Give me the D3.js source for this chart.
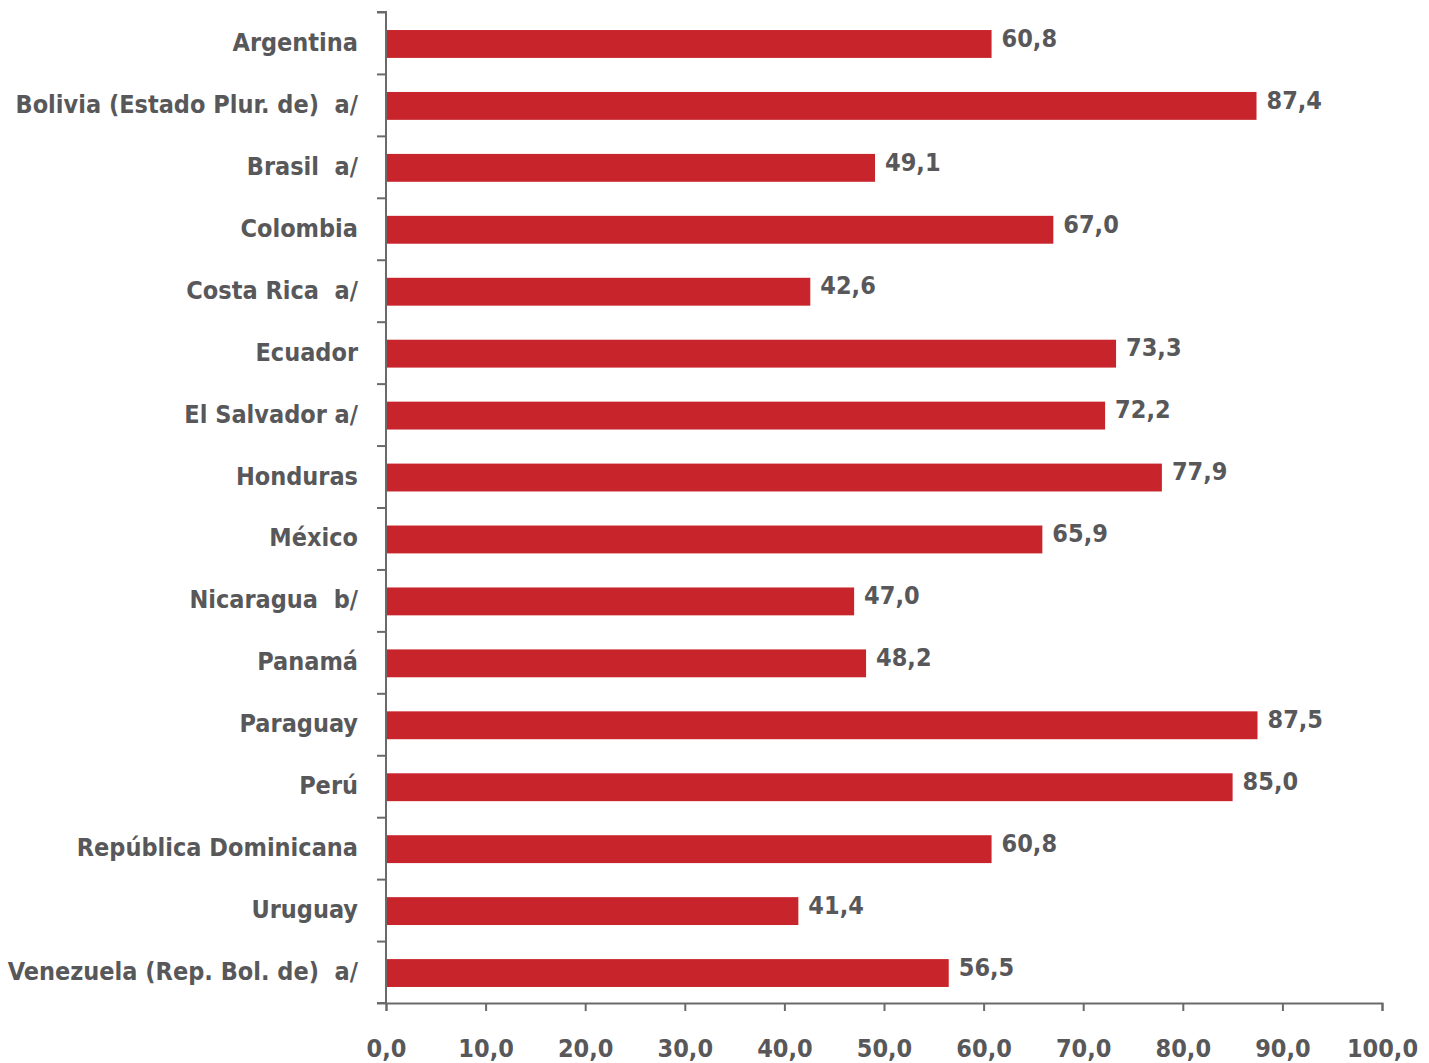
<!DOCTYPE html>
<html><head><meta charset="utf-8">
<script src="https://cdn.jsdelivr.net/npm/d3@7"></script>
<style>
html,body{margin:0;padding:0;background:#fff;}
text{font-family:"DejaVu Sans Condensed","Liberation Sans Narrow",sans-serif;font-weight:bold;fill:#58585a;white-space:pre;}
</style></head>
<body><svg id="c" width="1429" height="1063"></svg>
<script>
const categories = ["Argentina","Bolivia (Estado Plur. de)  a/","Brasil  a/","Colombia","Costa Rica  a/","Ecuador","El Salvador a/","Honduras","México","Nicaragua  b/","Panamá","Paraguay","Perú","República Dominicana","Uruguay","Venezuela (Rep. Bol. de)  a/"];
const values = [60.8,87.4,49.1,67.0,42.6,73.3,72.2,77.9,65.9,47.0,48.2,87.5,85.0,60.8,41.4,56.5];
const xTicks = [0,10,20,30,40,50,60,70,80,90,100];

const data = categories.map((c,i)=>({c, v: values[i]}));
const svg = d3.select("#c");
const mL = 386, mR = 1382, mT = 12, mB = 1003;
const fmt = d => d.toFixed(1).replace(".", ",");

const x = d3.scaleLinear().domain([0,100]).range([mL,mR]);
const y = d3.scaleBand().domain(categories).range([mT,mB]).paddingInner(0.55).paddingOuter(0.275);
const yb = d3.scaleLinear().domain([0,categories.length]).range([mT,mB]);

svg.append("g").selectAll("rect").data(data).join("rect")
  .attr("x", x(0)+1).attr("y", d=>y(d.c)+1).attr("width", d=>x(d.v)-x(0)-1).attr("height", y.bandwidth())
  .attr("fill","#c8242b");

// y axis line + boundary ticks
const gy = svg.append("g").attr("transform",`translate(${mL},0)`)
  .call(d3.axisLeft(yb).tickValues(d3.range(0,categories.length+1)).tickSize(9).tickFormat(""));
gy.selectAll("path,line").attr("stroke","#6a6a6a").attr("stroke-width",2);
gy.select(".domain").attr("d",`M-9,${mT}H0V${mB}H-9`);

// category labels
const gl = svg.append("g").attr("transform",`translate(${mL-28},0)`)
  .call(d3.axisLeft(y).tickSize(0).tickPadding(0));
gl.select(".domain").remove();
gl.selectAll("text").attr("font-size",25).attr("fill",null).attr("font-family",null)
  .attr("xml:space","preserve");

// x axis
const gx = svg.append("g").attr("transform",`translate(0,${mB})`)
  .call(d3.axisBottom(x).tickValues(xTicks).tickSize(8).tickPadding(28).tickFormat(fmt));
gx.selectAll("path,line").attr("stroke","#6a6a6a").attr("stroke-width",2);
gx.selectAll("text").attr("font-size",25).attr("fill",null).attr("font-family",null);

// value labels
svg.append("g").selectAll("text").data(data).join("text")
  .attr("x", d=>x(d.v)+10).attr("y", d=>y(d.c)+y.bandwidth()/2-5)
  .attr("dy","0.35em").attr("font-size",25).text(d=>fmt(d.v));
</script></body></html>
